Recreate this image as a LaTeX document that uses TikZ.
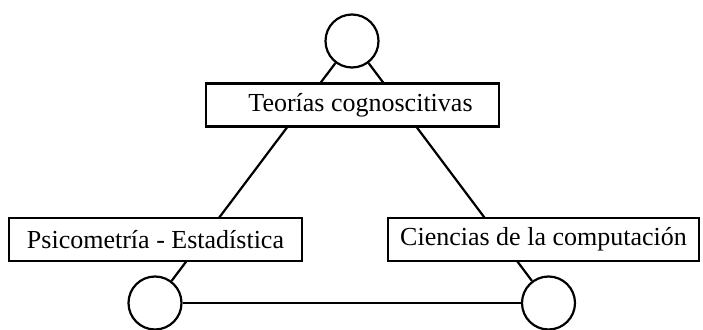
\documentclass[tikz,border=0pt]{standalone}
\usepackage{fontspec}
\setmainfont{Liberation Serif}
\begin{document}
\begin{tikzpicture}[x=1pt,y=1pt,
  vertex/.style={circle,draw,line width=2.2pt,minimum size=53pt,inner sep=0pt},
  labelbox/.style={draw,fill=white,line width=2.2pt,minimum height=43pt,inner sep=0pt,
    font=\fontsize{26}{30}\selectfont},
  edge/.style={line width=2.2pt}]
\useasboundingbox (0,0) rectangle (703,329);
\node[vertex] (t) at (352,288) {};
\node[vertex] (l) at (155,26) {};
\node[vertex] (r) at (548.5,26) {};
\draw[edge] (t) -- (l);
\draw[edge] (t) -- (r);
\draw[edge] (l) -- (r);
\node[labelbox,minimum width=293pt] (tc) at (352.5,224) {\hspace*{16pt}Teorías cognoscitivas};
\node[labelbox,minimum width=293pt] (pe) at (155.5,89.5) {Psicometría - Estadística};
\node[labelbox,minimum width=311pt] (cc) at (543.5,89.5) {Ciencias de la computación};
\end{tikzpicture}
\end{document}
